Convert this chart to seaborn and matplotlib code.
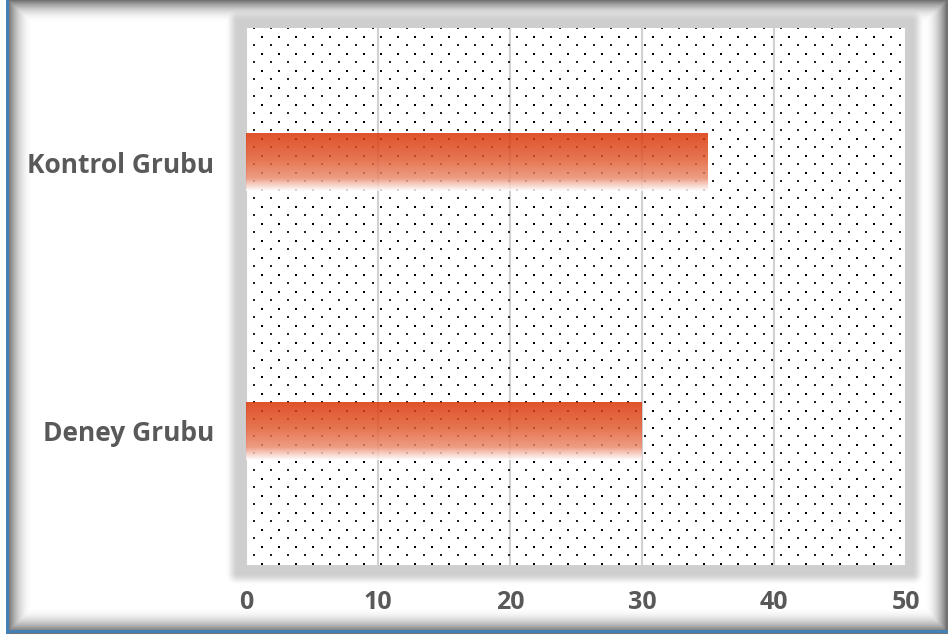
import numpy as np
import pandas as pd
import matplotlib
matplotlib.use("Agg")
import matplotlib.pyplot as plt
from matplotlib.colors import LinearSegmentedColormap
import seaborn as sns

# ---- data ----
groups = ["Kontrol Grubu", "Deney Grubu"]
scores = [35, 30]
x_ticks = [0, 10, 20, 30, 40, 50]

sns.set_theme(style="white")
plt.rcParams["font.family"] = ["Open Sans", "DejaVu Sans"]

W, H, DPI = 948, 639, 100
fig = plt.figure(figsize=(W / DPI, H / DPI), dpi=DPI)

# plot rectangle in pixels (left, top, right, bottom)
PL, PT, PR, PB = 246, 28, 906, 565

# ---- background: framed panel with soft inner shadow and plot drop shadow ----
yy, xx = np.mgrid[0:H, 0:W].astype(float)


def edge_ramp(d, width):
    return np.clip(1.0 - d / width, 0.0, 1.0) ** 2


shade = np.maximum.reduce([
    edge_ramp(xx - 8, 24),
    edge_ramp(yy - 0, 22),
    edge_ramp(946 - xx, 22),
    edge_ramp(631 - yy, 24),
])
lum = 1.0 - 0.55 * shade

# gray shadow band around the plotting area
dx = np.maximum.reduce([PL - 9 - xx, np.zeros_like(xx), xx - (PR + 6)])
dy = np.maximum.reduce([PT - 7 - yy, np.zeros_like(yy), yy - (PB + 8)])
dist = np.hypot(dx, dy)
t = np.clip(dist / 12.0, 0, 1)
halo = 0.19 * (1 - t * t * (3 - 2 * t))
lum = lum - halo

img = np.repeat(np.clip(lum, 0, 1)[:, :, None], 3, axis=2)
outside = (xx < 7) | (yy > 633)
img[outside] = 1.0
blue = np.array([0x45, 0x80, 0xB4]) / 255.0
img[(xx >= 6) & (xx < 9) & (yy <= 633)] = blue
img[(yy >= 630) & (yy < 633) & (xx >= 6)] = blue

bg = fig.add_axes([0, 0, 1, 1], zorder=-5)
bg.imshow(img, aspect="auto", interpolation="bilinear")
bg.set_axis_off()

# ---- main axes ----
ax = fig.add_axes([PL / W, 1 - PB / H, (PR - PL) / W, (PB - PT) / H], zorder=1)
ax.set_facecolor("white")

# dotted fill pattern, staggered grid with a 17 px period
pw, ph = PR - PL, PB - PT
period = 17.0
bx, by = np.meshgrid(np.arange(-0.8, pw + 1, period), np.arange(8.8, ph, period))
sx, sy = np.meshgrid(np.arange(7.7, pw + 1, period), np.arange(0.4, ph, period))
ax.scatter(bx.ravel() / pw, 1 - by.ravel() / ph, s=2.8, marker="s", c="#000000",
           linewidths=0, transform=ax.transAxes, zorder=1, clip_on=True)
ax.scatter(sx.ravel() / pw, 1 - sy.ravel() / ph, s=1.4, marker="s", c="#222222",
           linewidths=0, transform=ax.transAxes, zorder=1, clip_on=True)

df = pd.DataFrame({"group": groups, "score": scores})
sns.barplot(data=df, x="score", y="group", orient="h", width=0.216,
            color="#E0522A", ax=ax, zorder=3)

# vertical gradient fill for each bar: orange-red fading to white at the bottom
stops = [(0.0, (219, 52, 5)), (0.45, (226, 92, 50)), (0.78, (235, 140, 110)),
         (0.86, (243, 185, 168)), (1.0, (255, 255, 255))]
cmap = LinearSegmentedColormap.from_list(
    "bar_fade", [(p, tuple(np.array(c) / 255.0)) for p, c in stops])
grad = np.linspace(0, 1, 256)[:, None]
for patch in ax.patches:
    x0, y0 = patch.get_x(), patch.get_y()
    w, h = patch.get_width(), patch.get_height()
    patch.set_facecolor("none")
    patch.set_edgecolor("none")
    im = ax.imshow(grad, cmap=cmap, aspect="auto", extent=(x0, x0 + w, y0 + h, y0),
                   origin="upper", alpha=0.85, zorder=3, interpolation="bilinear")
    im.set_clip_path(patch)

ax.set_xlim(0, 50)
ax.set_ylim(1.5, -0.5)
ax.set_xticks(x_ticks)
ax.set_xticklabels([str(t) for t in x_ticks])
ax.grid(axis="x", color="#d0d0d0", linewidth=1.5, zorder=0)
ax.set_axisbelow(True)
for sp in ax.spines.values():
    sp.set_visible(False)
ax.set_xlabel("")
ax.set_ylabel("")
ax.tick_params(axis="both", length=0, labelcolor="#595959")
ax.tick_params(axis="x", pad=18, labelsize=18)
ax.tick_params(axis="y", pad=23, labelsize=19)
for lab in ax.get_xticklabels() + ax.get_yticklabels():
    lab.set_fontweight("bold")

fig.savefig("out.png", dpi=DPI)
